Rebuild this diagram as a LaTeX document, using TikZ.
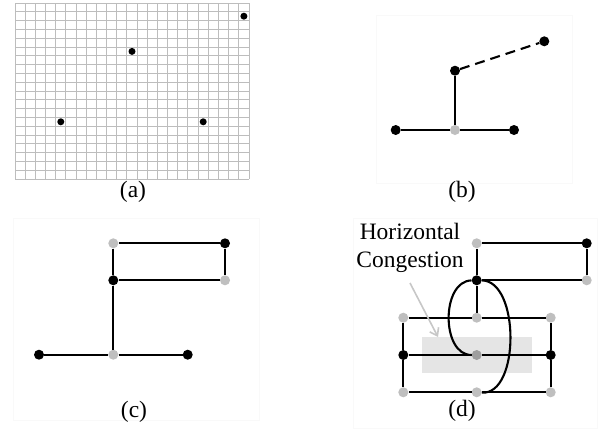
\documentclass[tikz,border=0pt]{standalone}
\usepackage{fontspec}
\setmainfont{Liberation Serif}
\usetikzlibrary{arrows.meta}
\definecolor{gridc}{gray}{0.74}
\definecolor{lgray}{gray}{0.75}
\definecolor{mgray}{gray}{0.62}
\definecolor{panelc}{gray}{0.975}
\tikzset{
  bdot/.style={circle,fill=black,inner sep=0pt,minimum size=10pt},
  gdot/.style={circle,fill=lgray,inner sep=0pt,minimum size=10pt},
  mdot/.style={circle,fill=mgray,inner sep=0pt,minimum size=10pt},
  sdot/.style={circle,fill=black,inner sep=0pt,minimum size=7pt},
  wire/.style={line width=2.1pt,black},
  lbl/.style={font=\fontsize{23.5}{28.5}\selectfont,inner sep=0pt},
  panel/.style={draw=panelc,line width=0.8pt},
}
\begin{document}
\begin{tikzpicture}[x=1pt,y=-1pt]
\useasboundingbox (0,0) rectangle (600,429);
\fill[white] (0,0) rectangle (600,429);
% panels
\draw[panel] (376,15) rectangle (572,183);
\draw[panel] (13,218) rectangle (259,420);
\draw[panel] (353,218) rectangle (597,428);
% (a) grid
\foreach \i in {0,...,23} \draw[gridc,line width=1pt] (15+\i*10.174,3) -- ++(0,176);
\foreach \j in {0,...,20} \draw[gridc,line width=1pt] (15,3+\j*8.8) -- ++(234,0);
\node[sdot] (a1) at (243.9,16.2) {};
\node[sdot] (a2) at (132,51.4) {};
\node[sdot] (a3) at (60.8,121.8) {};
\node[sdot] (a4) at (203.2,121.8) {};
\node[lbl] (la) at (133,192) {(a)};
% (b)
\node[bdot] (b1) at (544.3,41.3) {};
\node[bdot] (b2) at (455,70.7) {};
\node[gdot] (b3) at (455,130) {};
\node[bdot] (b4) at (395.7,130) {};
\node[bdot] (b5) at (514,130) {};
\draw[wire] (b2) -- (b3);
\draw[wire] (b4) -- (b3);
\draw[wire] (b3) -- (b5);
\draw[wire,dash pattern=on 10pt off 6pt] (b2) -- (b1);
\node[lbl] (lb) at (462,192) {(b)};
% (c)
\node[gdot] (c1) at (113.3,243.3) {};
\node[bdot] (c2) at (225,243.3) {};
\node[bdot] (c3) at (113.3,280.3) {};
\node[gdot] (c4) at (225,280.3) {};
\node[bdot] (c5) at (39,354.7) {};
\node[gdot] (c6) at (113.3,354.7) {};
\node[bdot] (c7) at (187.7,354.7) {};
\draw[wire] (c1) -- (c2);
\draw[wire] (c2) -- (c4);
\draw[wire] (c3) -- (c4);
\draw[wire] (c1) -- (c3);
\draw[wire] (c3) -- (c6);
\draw[wire] (c5) -- (c6);
\draw[wire] (c6) -- (c7);
\node[lbl] (lc) at (134,412) {(c)};
% (d)
\fill[black!10] (421.7,336.7) rectangle (532.3,373.3);
\node[gdot] (d1) at (476.7,243.3) {};
\node[bdot] (d2) at (586.7,243.3) {};
\node[bdot] (d3) at (476.7,280.3) {};
\node[gdot] (d4) at (586.7,280.3) {};
\node[gdot] (e11) at (403.3,317.7) {};
\node[gdot] (e12) at (476.7,317.7) {};
\node[gdot] (e13) at (550.7,317.7) {};
\node[bdot] (e21) at (403.3,355) {};
\node[mdot] (e22) at (476.7,355) {};
\node[bdot] (e23) at (550.7,355) {};
\node[gdot] (e31) at (403.3,392.3) {};
\node[gdot] (e32) at (476.7,392.3) {};
\node[gdot] (e33) at (550.7,392.3) {};
\draw[wire] (d1) -- (d2);
\draw[wire] (d2) -- (d4);
\draw[wire] (d3) -- (d4);
\draw[wire] (d1) -- (d3);
\draw[wire] (d3) -- (e12);
\draw[wire] (e11) -- (e12);
\draw[wire] (e12) -- (e13);
\draw[wire] (e21) -- (e22);
\draw[wire] (e22) -- (e23);
\draw[wire] (e31) -- (e32);
\draw[wire] (e32) -- (e33);
\draw[wire] (e11) -- (e21);
\draw[wire] (e21) -- (e31);
\draw[wire] (e13) -- (e23);
\draw[wire] (e23) -- (e33);
\draw[wire] (d3) .. controls (441,281) and (441,355) .. (e22);
\draw[wire] (d3) .. controls (520,281) and (520,395) .. (e32);
\node[lbl,align=center] (hc) at (410,248) {Horizontal\\Congestion};
\coordinate (ar1) at (410,283);
\coordinate (ar2) at (438,337);
\draw[black!22,line width=1.6pt,-{Straight Barb[length=7pt,width=10pt]}] (ar1) -- (ar2);
\node[lbl] (ld) at (462,411) {(d)};
\end{tikzpicture}
\end{document}
